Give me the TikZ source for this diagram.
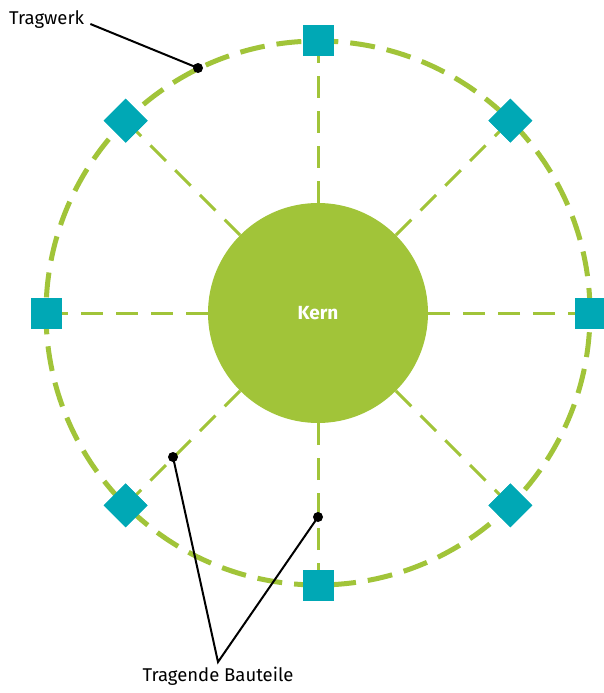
\documentclass[tikz,border=0pt]{standalone}
\usepackage{fontspec}
\setmainfont{Fira Sans}
\usetikzlibrary{positioning}
\definecolor{kerngreen}{RGB}{161,196,57}
\definecolor{pillarteal}{RGB}{0,168,181}
\tikzset{
  ring/.style={kerngreen,line width=5pt,dash pattern=on 25pt off 12pt},
  spoke/.style={kerngreen,line width=3pt,dash pattern=on 22pt off 13pt},
  pillar/.style={fill=pillarteal,minimum size=31pt,inner sep=0pt},
  leader/.style={black,line width=2pt},
  callout/.style={font=\fontsize{18.5}{22}\selectfont,inner sep=2pt},
}
\begin{document}
\begin{tikzpicture}[x=1pt,y=-1pt]
\useasboundingbox (0,0) rectangle (604,693);
% Kern und Tragwerk
\node[circle,fill=kerngreen,minimum size=220pt,text=white,font=\fontsize{19}{23}\selectfont\bfseries] (kern) at (318,313) {Kern};
\draw[ring] (kern.center) circle (272pt);
% Tragende Bauteile
\foreach \a in {0,45,...,315}{
  \path (kern.center) ++(\a:272) node[pillar,rotate=\a] (p\a) {};
  \draw[spoke] (p\a.center) -- (kern);
  \node[pillar,rotate=\a] at (p\a.center) {};
}
% Beschriftung
\coordinate (tw) at (198,68);
\coordinate (bt1) at (173,457);
\coordinate (bt2) at (318,517);
\coordinate (apex) at (218,662);
\node[callout,anchor=west] (tragwerk) at (7,20) {Tragwerk};
\node[callout,below=3pt of apex] (bauteile) {Tragende Bauteile};
\draw[leader] ([xshift=4pt,yshift=-4pt]tragwerk.east) -- (tw);
\draw[leader] (bt1) -- (apex) -- (bt2);
\fill (tw) circle (5pt);
\fill (bt1) circle (5pt);
\fill (bt2) circle (5pt);
\end{tikzpicture}
\end{document}
